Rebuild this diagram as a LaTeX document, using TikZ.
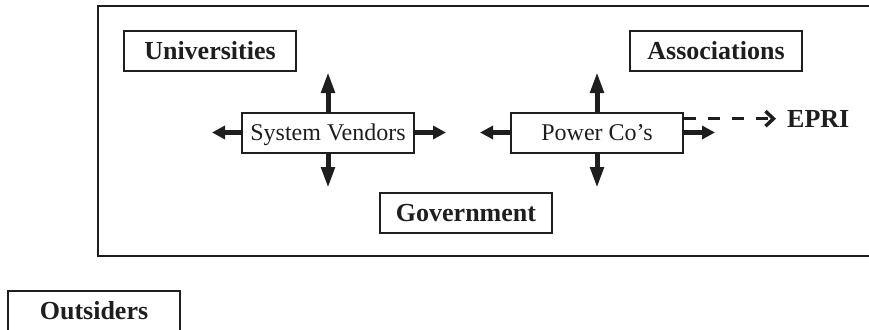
\documentclass[tikz,border=0pt]{standalone}
\usepackage{fontspec}
\setmainfont{Liberation Serif}
\usetikzlibrary{arrows.meta,calc}
\definecolor{ink}{HTML}{1E1E1E}
\begin{document}
\begin{tikzpicture}[x=1pt,y=-1pt,
  outerbox/.style={draw=ink, line width=2pt, minimum width=172pt, minimum height=40pt,
    inner sep=0pt, text height=17pt, text depth=0pt, text=ink,
    font=\fontsize{26}{26}\selectfont\bfseries},
  innerbox/.style={outerbox, font=\fontsize{24}{24}\selectfont, text height=16pt},
  frameline/.style={draw=ink, line width=2pt},
  vlink/.style={draw=ink, line width=5pt, -{Triangle[length=21pt,width=13pt]}},
  hlink/.style={draw=ink, line width=5pt, -{Triangle[length=13pt,width=13pt]}},
  dashlink/.style={draw=ink, line width=3.5pt, dash pattern=on 12pt off 12pt,
    -{Straight Barb[length=8pt,width=15pt,line width=3.5pt]}, shorten >=11pt},
]
\useasboundingbox (0,0) rectangle (869,329);
\clip (0,0) rectangle (869,329);

% organisations frame, open to the right
\draw[frameline] (900,6) -- (98,6) -- (98,256) -- (900,256);

% boxes
\node[outerbox] (uni) at (210,51) {Universities};
\node[outerbox] (assoc) at (716,51) {Associations};
\node[outerbox] (gov) at (466,212.5) {Government};
\node[innerbox] (sv) at (328,132.5) {System Vendors};
\node[innerbox] (pc) at (597,132.5) {Power Co’s};
\node[outerbox] (out) at (94,310.5) {Outsiders};
\node[anchor=west, inner sep=0pt, text height=17pt, text depth=0pt, text=ink,
  font=\fontsize{26}{26}\selectfont\bfseries] (epri) at (787,118.7) {EPRI};

% arrow tips
\coordinate (svU) at (328,72);
\coordinate (svD) at (328,188);
\coordinate (svL) at (212,132.5);
\coordinate (svR) at (446,132.5);
\coordinate (pcU) at (597,72);
\coordinate (pcD) at (597,188);
\coordinate (pcL) at (480,132.5);
\coordinate (pcR) at (715,132.5);

\draw[vlink] (sv.north) -- (svU);
\draw[vlink] (sv.south) -- (svD);
\draw[hlink] (sv.west) -- (svL);
\draw[hlink] (sv.east) -- (svR);
\draw[vlink] (pc.north) -- (pcU);
\draw[vlink] (pc.south) -- (pcD);
\draw[hlink] (pc.west) -- (pcL);
\draw[hlink] (pc.east) -- (pcR);

% dashed link to EPRI
\draw[dashlink] (pc.east |- epri.west) -- (epri.west);
\end{tikzpicture}
\end{document}
